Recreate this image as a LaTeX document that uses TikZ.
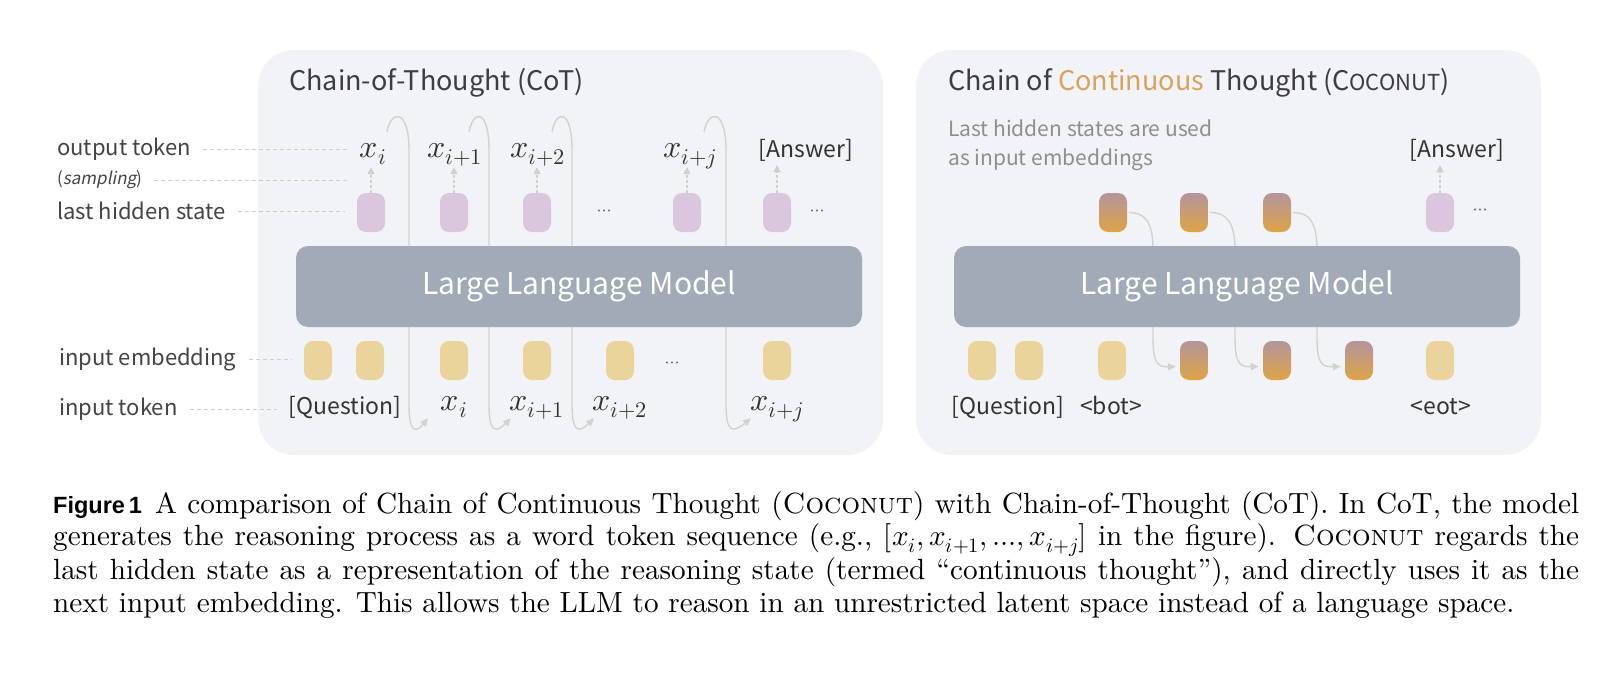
\documentclass[tikz,border=0pt]{standalone}
\usepackage{unicode-math}
\setmainfont{lmroman10-regular.otf}[BoldFont=lmroman10-bold.otf,ItalicFont=lmroman10-italic.otf,SmallCapsFont=lmromancaps10-regular.otf,Ligatures=TeX]
\newfontfamily\diagfont{Noto Sans CJK KR}
\newfontfamily\diagslant{Noto Sans CJK KR}[FakeSlant=0.2]
\newfontfamily\capfont{Liberation Sans}
\usetikzlibrary{arrows.meta}

\definecolor{panelbg}{HTML}{F2F3F7}
\definecolor{llmgray}{HTML}{A2AAB8}
\definecolor{hidpurple}{HTML}{DAC7DD}
\definecolor{embyellow}{HTML}{EBD49C}
\definecolor{thtop}{HTML}{B3959C}
\definecolor{thbot}{HTML}{DEA447}
\definecolor{titledark}{HTML}{3C3C41}
\definecolor{contorange}{HTML}{D9A15C}
\definecolor{subgray}{HTML}{8E8E8E}
\definecolor{lbldark}{HTML}{444444}
\definecolor{tokdark}{HTML}{333333}
\definecolor{dotgray}{HTML}{555555}
\definecolor{guidegray}{HTML}{CDCDCD}
\definecolor{arrgray}{HTML}{CFCFCF}
\definecolor{loopgray}{HTML}{D2D2D2}

\begin{document}
\begin{tikzpicture}[x=1pt,y=-1pt,
  panel/.style={fill=panelbg,rounded corners=36pt},
  llm/.style={fill=llmgray,rounded corners=12pt,minimum width=566pt,minimum height=81pt,inner sep=0,text=white,font=\diagfont\fontsize{30}{30}\selectfont},
  hid/.style={fill=hidpurple,rounded corners=9pt,minimum width=28pt,minimum height=39pt,inner sep=0},
  emb/.style={hid,fill=embyellow},
  thought/.style={hid,fill=none,top color=thtop,bottom color=thbot},
  mtok/.style={inner sep=0,anchor=base,text=tokdark,font=\fontsize{32}{32}\selectfont,text height=14pt,text depth=6pt},
  ttok/.style={inner sep=0,anchor=base,text=tokdark,font=\diagfont\fontsize{23}{23}\selectfont},
  lbl/.style={inner sep=0,anchor=west,text=lbldark,font=\diagfont\fontsize{22}{22}\selectfont},
  dots/.style={inner sep=0,text=dotgray,font=\fontsize{18}{18}\selectfont},
  guide/.style={draw=guidegray,line width=1pt,dash pattern=on 4pt off 3pt,shorten <=12pt,shorten >=12pt},
  samp/.style={draw=arrgray,line width=1.5pt,dash pattern=on 3pt off 2pt,-{Triangle[length=7pt,width=7pt]},shorten >=4pt},
  feed/.style={draw=loopgray,line width=1.4pt,-{Triangle[length=8pt,width=7pt]}}
]
  % Draw the page and the two panels
  \path[use as bounding box,fill=white] (0,0) rectangle (1600,680);
  \fill[panel] (258,50) rectangle (883,455);
  \fill[panel] (916,50) rectangle (1541,455);

  % Titles
  \node[anchor=west,inner sep=0,text=titledark,font=\diagfont\fontsize{27}{27}\selectfont] (cottitle) at (289,83) {Chain-of-Thought (CoT)};
  \node[anchor=west,inner sep=0,text=titledark,font=\diagfont\fontsize{27}{27}\selectfont] (cctitle) at (948,83) {Chain of \textcolor{contorange}{Continuous} Thought (C{\fontsize{22}{22}\selectfont OCONUT})};
  \node[anchor=west,inner sep=0,align=left,text=subgray,font=\diagfont\fontsize{21}{29}\selectfont] (note) at (948,145) {Last hidden states are used\\as input embeddings};

  % Row labels
  \node[lbl] (lout) at (57,149) {output token};
  \node[lbl,font=\diagfont\fontsize{17}{17}\selectfont] (lsamp) at (57,180) {({\diagslant sampling})};
  \node[lbl] (lhid) at (57,211) {last hidden state};
  \node[lbl] (lemb) at (59,359) {input embedding};
  \node[lbl] (lin) at (59,409) {input token};

  % CoT: last hidden states and output tokens
  \node[hid] (h1) at (371,212.5) {};
  \node[hid] (h2) at (454,212.5) {};
  \node[hid] (h3) at (537,212.5) {};
  \node[hid] (h4) at (687,212.5) {};
  \node[hid] (h5) at (777,212.5) {};
  \node[dots] (hdots1) at (604,213) {$\cdots$};
  \node[dots] (hdots2) at (817,213) {$\cdots$};
  \node[mtok] (o1) at (373,157) {$x_i$};
  \node[mtok] (o2) at (455,157) {$x_{i+1}$};
  \node[mtok] (o3) at (538,157) {$x_{i+2}$};
  \node[mtok] (o4) at (690,157) {$x_{i+j}$};
  \node[ttok] (oans) at (806,157) {[Answer]};
  \draw[samp] (h1.north) -- (h1.north |- o1.south);
  \draw[samp] (h2.north) -- (h2.north |- o2.south);
  \draw[samp] (h3.north) -- (h3.north |- o3.south);
  \draw[samp] (h4.north) -- (h4.north |- o4.south);
  \draw[samp] (h5.north) -- (h5.north |- oans.south);

  % CoT: input embeddings and input tokens
  \node[emb] (e1) at (318,360.5) {};
  \node[emb] (e2) at (370,360.5) {};
  \node[emb] (e3) at (454,360.5) {};
  \node[emb] (e4) at (537,360.5) {};
  \node[emb] (e5) at (620,360.5) {};
  \node[emb] (e6) at (777,360.5) {};
  \node[dots] (edots) at (672,365) {$\cdots$};
  \node[ttok] (iq) at (345,414) {[Question]};
  \node[mtok] (i1) at (454,410) {$x_i$};
  \node[mtok] (i2) at (537,410) {$x_{i+1}$};
  \node[mtok] (i3) at (620,410) {$x_{i+2}$};
  \node[mtok] (i4) at (777,410) {$x_{i+j}$};

  % Dotted guides from the labels
  \draw[guide] (lout.east) -- (lout.east -| o1.west);
  \draw[guide] (lsamp.east) -- (lsamp.east -| o1.west);
  \draw[guide] (lhid.east) -- (lhid.east -| h1.west);
  \draw[guide] (lemb.east) -- (lemb.east -| e1.west);
  \draw[guide] (lin.east) -- (lin.east -| iq.west);

  % CoT: each output token is fed back as the next input
  \draw[feed] ([shift={(14,-11)}]o1.north) .. controls +(4,-22) and (409,108) .. (409,150) -- (409,405) .. controls (409,433) and (416,433) .. ([shift={(-26,2)}]i1.south);
  \draw[feed] ([shift={(14,-11)}]o2.north) .. controls +(4,-22) and (489,108) .. (489,150) -- (489,405) .. controls (489,433) and (496,433) .. ([shift={(-26,2)}]i2.south);
  \draw[feed] ([shift={(14,-11)}]o3.north) .. controls +(4,-22) and (572,108) .. (572,150) -- (572,405) .. controls (572,433) and (579,433) .. ([shift={(-26,2)}]i3.south);
  \draw[feed] ([shift={(14,-11)}]o4.north) .. controls +(4,-22) and (726,108) .. (726,150) -- (726,405) .. controls (726,433) and (733,433) .. ([shift={(-26,2)}]i4.south);

  % Coconut: continuous thoughts
  \node[thought] (t1) at (1113,212.5) {};
  \node[thought] (t2) at (1194,212.5) {};
  \node[thought] (t3) at (1277,212.5) {};
  \node[hid] (h6) at (1440,212.5) {};
  \node[dots] (hdots3) at (1480,212) {$\cdots$};
  \node[ttok] (ans2) at (1457,157) {[Answer]};
  \draw[samp] (h6.north) -- (h6.north |- ans2.south);

  \node[emb] (q1) at (982,360.5) {};
  \node[emb] (q2) at (1029,360.5) {};
  \node[emb] (bot) at (1112,360.5) {};
  \node[thought] (c1) at (1194,360.5) {};
  \node[thought] (c2) at (1277,360.5) {};
  \node[thought] (c3) at (1359,360.5) {};
  \node[emb] (eot) at (1440,360.5) {};
  \node[ttok] (rq) at (1008,414) {[Question]};
  \node[ttok] (rbot) at (1111,414) {<bot>};
  \node[ttok] (reot) at (1441,414) {<eot>};

  % Coconut: hidden state goes straight to the next input
  \draw[feed] ([xshift=2pt]t1.east) .. controls +(16,0) and (1153,222) .. (1153,250) -- (1153,338) .. controls (1153,364) and (1158,367) .. ([shift={(-4,6)}]c1.west);
  \draw[feed] ([xshift=2pt]t2.east) .. controls +(16,0) and (1235,222) .. (1235,250) -- (1235,338) .. controls (1235,364) and (1240,367) .. ([shift={(-4,6)}]c2.west);
  \draw[feed] ([xshift=2pt]t3.east) .. controls +(16,0) and (1317,222) .. (1317,250) -- (1317,338) .. controls (1317,364) and (1322,367) .. ([shift={(-4,6)}]c3.west);

  % The two models on top of the loops
  \node[llm] (llmL) at (579,286.5) {Large Language Model};
  \node[llm] (llmR) at (1237,286.5) {Large Language Model};

  % Caption
  \node[anchor=north west,inner sep=0,text width=1526pt,align=justify,font=\fontsize{29.2}{32.5}\selectfont] (caption) at (53,491) {{\capfont\bfseries\fontsize{23.5}{23.5}\selectfont Figure\,1}\hspace{0.45em}A comparison of Chain of Continuous Thought (\textsc{Coconut}) with Chain-of-Thought (CoT). In CoT, the model\linebreak generates the reasoning process as a word token sequence (e.g., $[x_i, x_{i+1}, ..., x_{i+j}]$ in the figure). \textsc{Coconut} regards the\linebreak last hidden state as a representation of the reasoning state (termed ``continuous thought''), and directly uses it as the\linebreak next input embedding. This allows the LLM to reason in an unrestricted latent space instead of a language space.};
\end{tikzpicture}
\end{document}
